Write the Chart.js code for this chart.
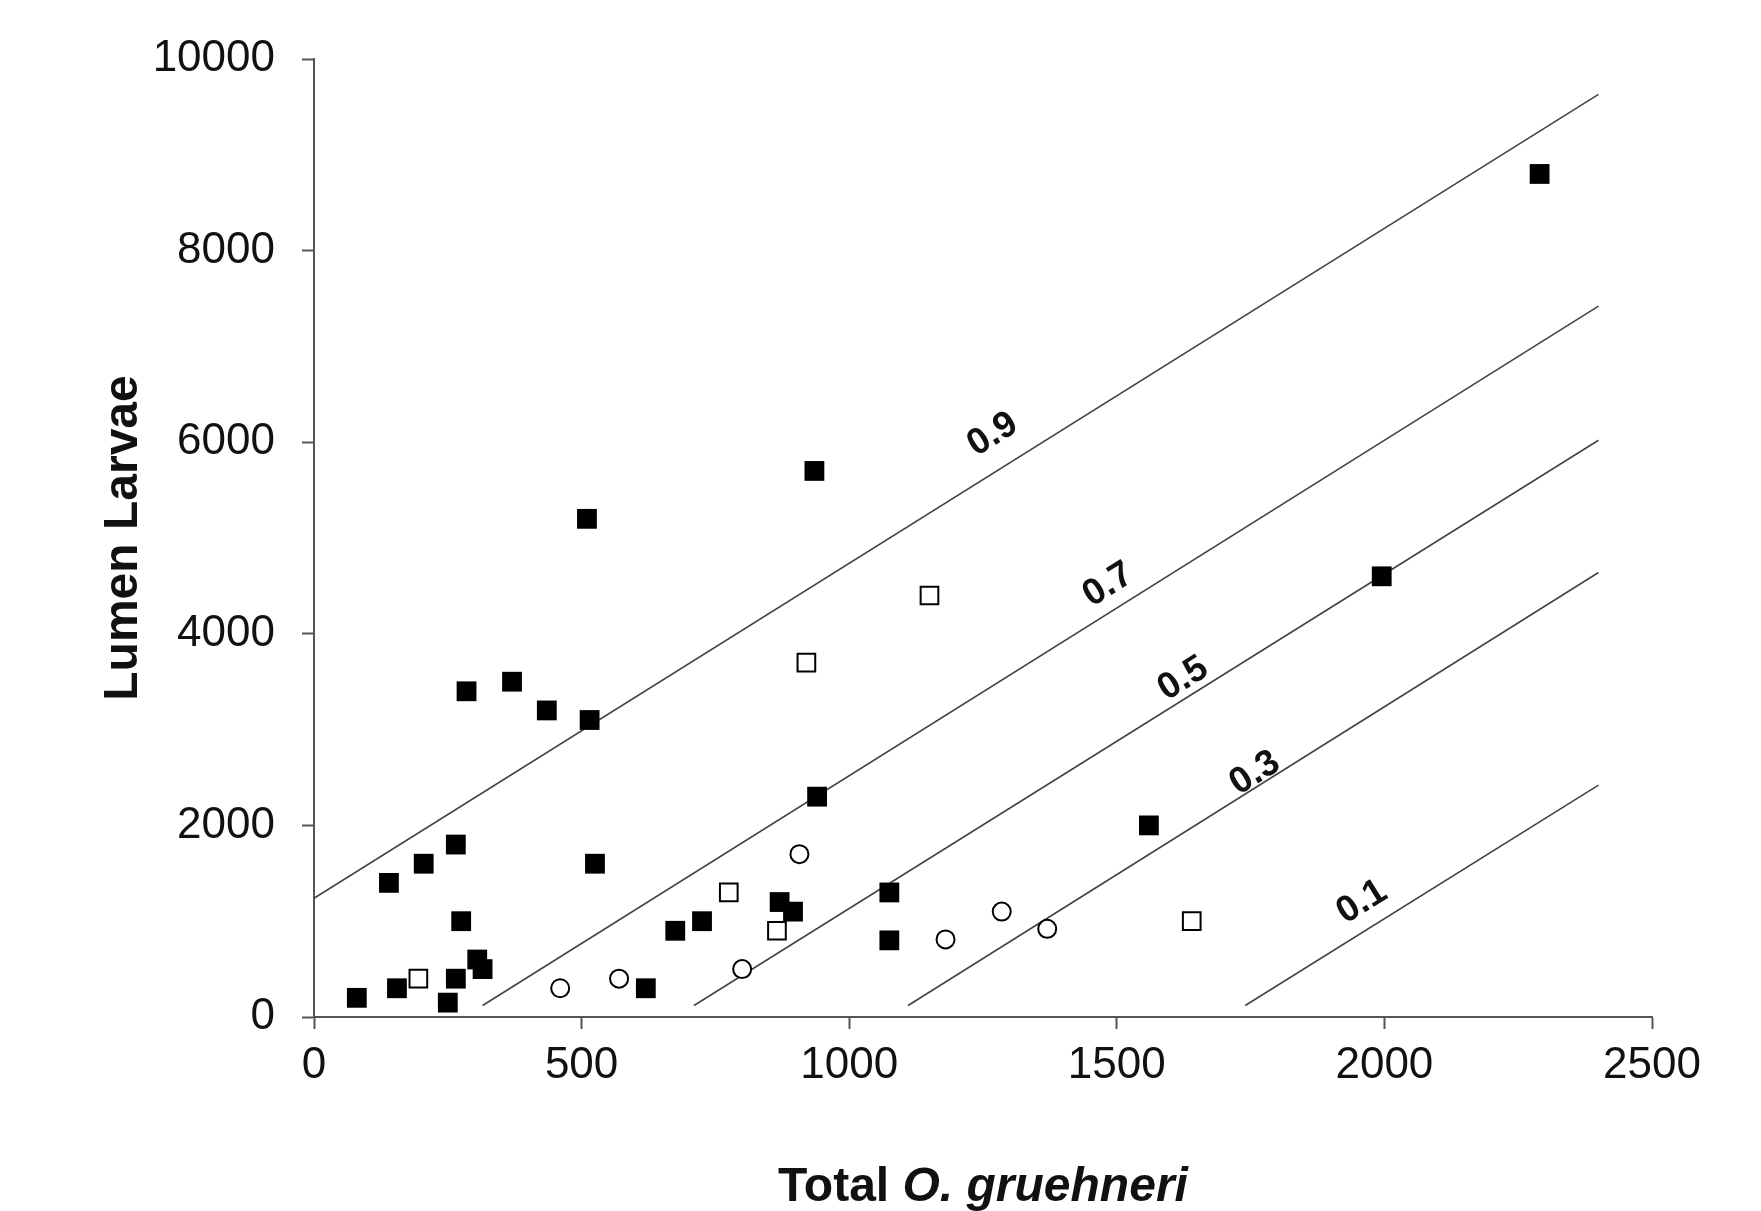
<!DOCTYPE html>
<html><head><meta charset="utf-8">
<script src="https://cdn.jsdelivr.net/npm/chart.js@4.4.1/dist/chart.umd.min.js"></script>
<style>html,body{margin:0;padding:0;background:#fff}#wrap{width:1761px;height:1211px;position:relative}</style>
</head><body><div id="wrap"><canvas id="c" width="1761" height="1211"></canvas></div>
<script>
// Data
const filledX = [80,140,155,205,250,265,265,275,285,305,315,370,435,510,515,525,620,675,725,870,895,935,940,1075,1075,1560,1995,2290];
const filledY = [200,1400,300,1600,150,1800,400,1000,3400,600,500,3500,3200,5200,3100,1600,300,900,1000,1200,1100,5700,2300,1300,800,2000,4600,8800];
const openSqX = [195,775,865,920,1150,1640];
const openSqY = [400,1300,900,3700,4400,1000];
const openCircX = [460,570,800,907,1180,1285,1370];
const openCircY = [300,400,500,1700,810,1100,920];
const lineLabels = ['0.9','0.7','0.5','0.3','0.1'];
const lineStartX = [0,315,710,1110,1740];
const lineStartY = [1240,120,120,120,120];
const lineEndX = [2400,2400,2400,2400,2400];
const lineEndY = [9630,7420,6020,4640,2420];
const labelX = [1268,1484,1624,1758,1958];
const labelY = [6080,4510,3530,2545,1200];
const xTicks = [0,500,1000,1500,2000,2500];
const yTicks = [0,2000,4000,6000,8000,10000];
const yTitle = 'Lumen Larvae';
const xTitlePlain = 'Total ';
const xTitleItalic = 'O. gruehneri';

const FONT = '"Liberation Sans", Arial, Helvetica, sans-serif';
Chart.defaults.font.family = FONT;

const pts = (xs, ys) => xs.map((v, i) => ({x: v, y: ys[i]}));

const datasets = [
  {data: pts(filledX, filledY), pointStyle: 'rect', pointRadius: 14, backgroundColor: '#000', borderColor: '#000', borderWidth: 0},
  {data: pts(openSqX, openSqY), pointStyle: 'rect', pointRadius: 12.5, backgroundColor: '#fff', borderColor: '#000', borderWidth: 2},
  {data: pts(openCircX, openCircY), pointStyle: 'circle', pointRadius: 9, backgroundColor: '#fff', borderColor: '#000', borderWidth: 2}
];
lineLabels.forEach((lab, i) => {
  datasets.push({
    label: lab,
    data: [{x: lineStartX[i], y: lineStartY[i]}, {x: lineEndX[i], y: lineEndY[i]}],
    showLine: true, pointRadius: 0, borderColor: '#444', borderWidth: 1.6, fill: false
  });
});

const overlay = {
  id: 'overlay',
  afterDraw(chart) {
    const {ctx, scales: {x, y}, chartArea} = chart;
    ctx.save();
    ctx.fillStyle = '#111';
    ctx.font = 'bold 37px ' + FONT;
    ctx.textAlign = 'center';
    ctx.textBaseline = 'middle';
    for (let i = 0; i < lineLabels.length; i++) {
      const px = x.getPixelForValue(labelX[i]), py = y.getPixelForValue(labelY[i]);
      const dx = x.getPixelForValue(lineEndX[i]) - x.getPixelForValue(lineStartX[i]);
      const dy = y.getPixelForValue(lineEndY[i]) - y.getPixelForValue(lineStartY[i]);
      ctx.save();
      ctx.translate(px, py);
      ctx.rotate(Math.atan2(dy, dx));
      ctx.fillText(lineLabels[i], 0, 0);
      ctx.restore();
    }
    // x-axis title with italic species name
    const fPlain = 'bold 48px ' + FONT;
    const fItal = 'italic bold 48px ' + FONT;
    ctx.font = fPlain; const w1 = ctx.measureText(xTitlePlain).width;
    ctx.font = fItal; const w2 = ctx.measureText(xTitleItalic).width;
    const cx = (chartArea.left + chartArea.right) / 2;
    const startX = cx - (w1 + w2) / 2;
    const base = 1201;
    ctx.textAlign = 'left';
    ctx.textBaseline = 'alphabetic';
    ctx.font = fPlain; ctx.fillText(xTitlePlain, startX, base);
    ctx.font = fItal; ctx.fillText(xTitleItalic, startX + w1, base);
    ctx.restore();
  }
};

new Chart(document.getElementById('c'), {
  type: 'scatter',
  data: {datasets},
  options: {
    responsive: false,
    animation: false,
    events: [],
    layout: {padding: {left: 0, top: 59, right: 109, bottom: 0}},
    plugins: {legend: {display: false}, tooltip: {enabled: false}},
    scales: {
      x: {
        type: 'linear', min: 0, max: 2500,
        afterBuildTicks: s => { s.ticks = xTicks.map(v => ({value: v})); },
        afterFit: s => { s.height = 194; },
        ticks: {font: {size: 44}, color: '#111', padding: 10, autoSkip: false, maxRotation: 0, callback: v => String(v)},
        grid: {drawOnChartArea: false, drawTicks: true, tickLength: 12, tickColor: '#555', tickWidth: 2},
        border: {display: true, color: '#555', width: 2},
        title: {display: false}
      },
      y: {
        type: 'linear', min: 0, max: 10000,
        afterBuildTicks: s => { s.ticks = yTicks.map(v => ({value: v})); },
        afterFit: s => { s.width = 314; },
        ticks: {font: {size: 44}, color: '#111', padding: 27, autoSkip: false, callback: v => String(v)},
        grid: {drawOnChartArea: false, drawTicks: true, tickLength: 12, tickColor: '#555', tickWidth: 2},
        border: {display: true, color: '#555', width: 2},
        title: {display: true, text: yTitle, color: '#111', font: {size: 48, weight: 'bold'}, padding: {top: 95, bottom: 0}}
      }
    }
  },
  plugins: [overlay]
});
</script>
</body></html>
